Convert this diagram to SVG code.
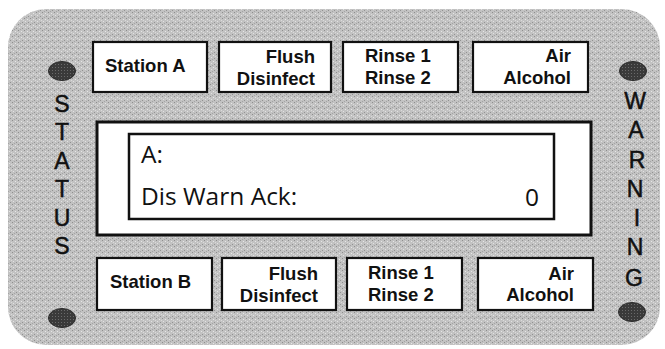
<svg xmlns="http://www.w3.org/2000/svg" width="665" height="349" viewBox="0 0 665 349">
<defs>
<pattern id="stipple" width="6" height="6" patternUnits="userSpaceOnUse">
<rect width="6" height="6" fill="#c2c2c2"/>
<rect x="0" y="0" width="1" height="1" fill="#8e8e8e"/>
<rect x="3" y="1" width="1" height="1" fill="#e6e6e6"/>
<rect x="1" y="3" width="1" height="1" fill="#e2e2e2"/>
<rect x="4" y="4" width="1" height="1" fill="#929292"/>
<rect x="2" y="5" width="1" height="1" fill="#a4a4a4"/>
<rect x="5" y="2" width="1" height="1" fill="#dadada"/>
</pattern>
<pattern id="dotfill" width="3" height="3" patternUnits="userSpaceOnUse">
<rect width="3" height="3" fill="#3a3a3a"/>
<rect x="1" y="1" width="1" height="1" fill="#6a6a6a"/>
</pattern>
</defs>
<style>
.btn{fill:#ffffff;stroke:#111111;stroke-width:2.2}
.bt{font-family:"Liberation Sans",Arial,sans-serif;font-weight:bold;font-size:18.5px;fill:#111111}
.side{font-family:"Liberation Sans",Arial,sans-serif;font-size:23px;fill:#111111;stroke:#111111;stroke-width:0.5;text-anchor:middle}
.lcd{font-family:"Open Sans","DejaVu Sans",sans-serif;font-size:24.5px;fill:#111111}
.led{fill:url(#dotfill);stroke:#2a2a2a;stroke-width:1}
</style>
<rect width="665" height="349" fill="#ffffff"/>
<g id="panel">
<rect x="8" y="9" width="652" height="336" rx="38" ry="38" fill="url(#stipple)"/>
</g>
<g id="status-label">
<text class="side" x="62" y="112">S</text>
<text class="side" x="62" y="140">T</text>
<text class="side" x="62" y="169">A</text>
<text class="side" x="62" y="197">T</text>
<text class="side" x="62" y="226">U</text>
<text class="side" x="62" y="254">S</text>
</g>
<g id="warning-label">
<text class="side" x="635" y="109">W</text>
<text class="side" x="636" y="138">A</text>
<text class="side" x="637" y="168">R</text>
<text class="side" x="635" y="197">N</text>
<text class="side" x="637" y="226">I</text>
<text class="side" x="635" y="255">N</text>
<text class="side" x="634" y="286">G</text>
</g>
<g id="led-status-top"><ellipse class="led" cx="62" cy="71" rx="13.5" ry="9.5"/></g>
<g id="led-status-bottom"><ellipse class="led" cx="62" cy="318" rx="13.5" ry="9.5"/></g>
<g id="led-warning-top"><ellipse class="led" cx="633" cy="71" rx="13.5" ry="9.5"/></g>
<g id="led-warning-bottom"><ellipse class="led" cx="632" cy="312" rx="13.5" ry="9.5"/></g>
<g id="btn-station-a">
<rect class="btn" x="93" y="42" width="114" height="50"/>
<text class="bt" x="105" y="72">Station A</text>
</g>
<g id="btn-flush-a">
<rect class="btn" x="219" y="42" width="112" height="50"/>
<text class="bt" x="315" y="63" text-anchor="end">Flush</text>
<text class="bt" x="315" y="85" text-anchor="end">Disinfect</text>
</g>
<g id="btn-rinse-a">
<rect class="btn" x="343" y="42" width="115" height="50"/>
<text class="bt" x="365" y="62">Rinse 1</text>
<text class="bt" x="365" y="84">Rinse 2</text>
</g>
<g id="btn-air-a">
<rect class="btn" x="473" y="42" width="115" height="50"/>
<text class="bt" x="571" y="62" text-anchor="end">Air</text>
<text class="bt" x="571" y="84" text-anchor="end">Alcohol</text>
</g>
<g id="display">
<rect x="97" y="122" width="494" height="113" fill="#ffffff" stroke="#111111" stroke-width="3"/>
<rect x="129" y="134" width="425" height="85" fill="#ffffff" stroke="#111111" stroke-width="2.5"/>
<text class="lcd" x="141" y="163">A:</text>
<text class="lcd" x="141" y="205">Dis Warn Ack:</text>
<text class="lcd" x="539" y="206" text-anchor="end">0</text>
</g>
<g id="btn-station-b">
<rect class="btn" x="97" y="258" width="115" height="52"/>
<text class="bt" x="110" y="288">Station B</text>
</g>
<g id="btn-flush-b">
<rect class="btn" x="222" y="258" width="114" height="52"/>
<text class="bt" x="318" y="280" text-anchor="end">Flush</text>
<text class="bt" x="318" y="302" text-anchor="end">Disinfect</text>
</g>
<g id="btn-rinse-b">
<rect class="btn" x="347" y="258" width="115" height="52"/>
<text class="bt" x="368" y="279">Rinse 1</text>
<text class="bt" x="368" y="301">Rinse 2</text>
</g>
<g id="btn-air-b">
<rect class="btn" x="478" y="258" width="115" height="52"/>
<text class="bt" x="574" y="280" text-anchor="end">Air</text>
<text class="bt" x="574" y="301" text-anchor="end">Alcohol</text>
</g>
<g id="connectors"></g>
</svg>
